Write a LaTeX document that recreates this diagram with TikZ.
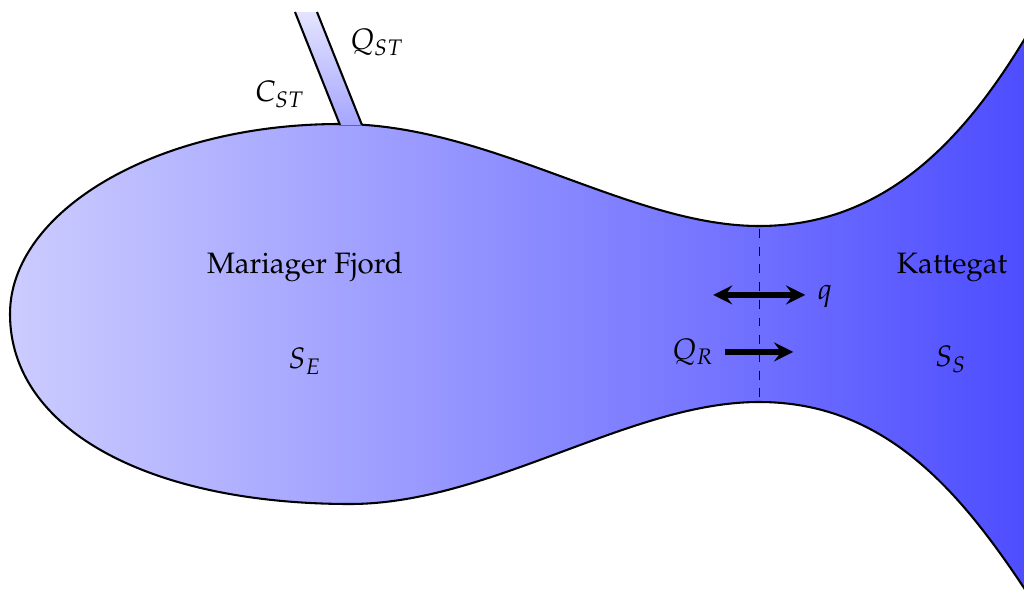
\documentclass[tikz,border=0pt]{standalone}
\usepackage[T1]{fontenc}
\usepackage{mathpazo}
\usetikzlibrary{positioning}
\definecolor{fjordleft}{RGB}{204,204,255}
\definecolor{fjordright}{RGB}{77,77,255}
\definecolor{streamtop}{RGB}{228,228,255}
\definecolor{streambot}{RGB}{165,165,255}
\tikzset{flow/.style={->,>=stealth,line width=1.8pt},
  shore/.style={draw=black,line width=.7pt}}
\begin{document}
\begin{tikzpicture}[scale=1.19]
 \useasboundingbox (0,0) rectangle (10.24,5.95);
 \clip (0,0) rectangle (10.24,5.95);
 % fjord
 \path[shore,left color=fjordleft,right color=fjordright]
   (10.30,5.65) .. controls (9.65,4.55) and (8.85,3.69) .. (7.59,3.69)
   .. controls (6.30,3.69) and (4.90,4.71) .. (3.40,4.71)
   .. controls (1.55,4.71) and (0.10,3.83) .. (0.10,2.81)
   .. controls (0.10,1.65) and (1.50,0.91) .. (3.50,0.91)
   .. controls (4.90,0.91) and (6.30,1.93) .. (7.59,1.93)
   .. controls (8.85,1.93) and (9.60,1.05) .. (10.30,-0.02);
 % stream
 \path[top color=streamtop,bottom color=streambot]
   (2.95,5.83) -- (3.40,4.695) -- (3.62,4.695) -- (3.17,5.83) -- cycle;
 \draw[shore] (2.95,5.83) -- (3.40,4.70);
 \draw[shore] (3.17,5.83) -- (3.62,4.70);
 \draw[streambot!60!black,line width=.25pt] (3.40,4.695) -- (3.62,4.695);
 % narrows
 \coordinate (nt) at (7.59,3.66);
 \coordinate (nb) at (7.59,1.97);
 \draw[dashed,line width=.4pt] (nt) -- (nb);
 \coordinate (ql) at (7.13,3.00);
 \coordinate (qr) at (8.05,3.00);
 \coordinate (rl) at (7.25,2.43);
 \coordinate (rr) at (7.93,2.43);
 \draw[flow,<->] (ql) -- (qr);
 \draw[flow] (rl) -- (rr);
 \node (qlab) at (8.25,2.99) {$q$};
 \node (rlab) at (6.93,2.43) {$Q_R$};
 \node (mf) at (3.05,3.28) {Mariager Fjord};
 \node (se) at (3.05,2.34) {$S_E$};
 \node (ka) at (9.52,3.28) {Kattegat};
 \node (ss) at (9.51,2.36) {$S_S$};
 \node (cst) at (2.80,5.01) {$C_{ST}$};
 \node (qst) at (3.77,5.53) {$Q_{ST}$};
\end{tikzpicture}
\end{document}
